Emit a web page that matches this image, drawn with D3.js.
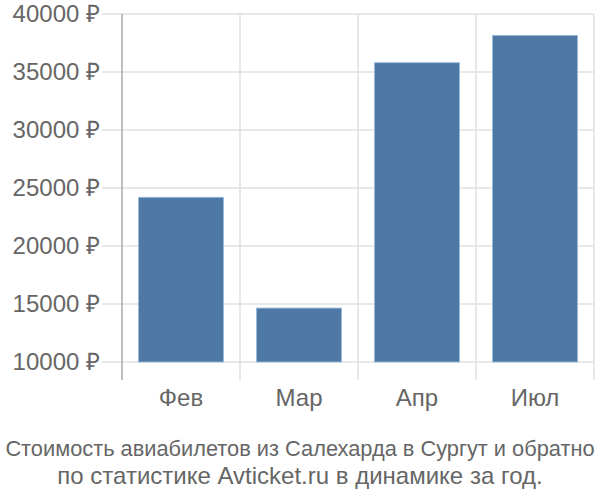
<!DOCTYPE html>
<html><head><meta charset="utf-8">
<script src="https://cdn.jsdelivr.net/npm/d3@7"></script>
<style>body{margin:0;background:#fff}svg{display:block}text{font-family:"Liberation Sans",Arial,sans-serif}</style>
</head><body><svg id="c" width="600" height="500"></svg>
<script>
const categories = ["Фев","Мар","Апр","Июл"];
const values = [24200, 14650, 35800, 38150];
const yTicks = [10000,15000,20000,25000,30000,35000,40000];
const titleLines = ["Стоимость авиабилетов из Салехарда в Сургут и обратно","по статистике Avticket.ru в динамике за год."];

const svg = d3.select("#c");
const x = d3.scaleBand().domain(categories).range([122,594]).paddingInner(0.28).paddingOuter(0.14);
const y = d3.scaleLinear().domain([10000,40000]).range([362,14]);

svg.append("g").selectAll("line").data(yTicks).join("line")
  .attr("x1",102).attr("x2",594).attr("y1",d=>y(d)).attr("y2",d=>y(d))
  .attr("stroke","#e0e0e0").attr("stroke-width",1.5);
const xEdges = categories.map(c=>x(c)-x.step()*x.paddingInner()/2).concat([x(categories[3])+x.bandwidth()+x.step()*x.paddingInner()/2]);
svg.append("g").selectAll("line").data(xEdges.slice(1)).join("line")
  .attr("x1",d=>d).attr("x2",d=>d).attr("y1",14).attr("y2",380)
  .attr("stroke","#e0e0e0").attr("stroke-width",1.5);
svg.append("g").selectAll("rect").data(values).join("rect")
  .attr("x",(d,i)=>x(categories[i])).attr("width",x.bandwidth())
  .attr("y",d=>y(d)).attr("height",d=>y(10000)-y(d))
  .attr("fill","#4e79a7").attr("stroke","#9ab8dc").attr("stroke-width",0.8);
svg.append("line").attr("x1",xEdges[0]).attr("x2",xEdges[0]).attr("y1",14).attr("y2",380)
  .attr("stroke","#aaaaaa").attr("stroke-width",1.5);
svg.append("g").selectAll("text").data(yTicks).join("text")
  .attr("x",100).attr("y",d=>y(d)).attr("dy","0.35em").attr("text-anchor","end")
  .attr("fill","#666").style("font-size","24px").text(d=>d+" ₽");
svg.append("g").selectAll("text").data(categories).join("text")
  .attr("x",d=>x(d)+x.bandwidth()/2).attr("y",406).attr("text-anchor","middle")
  .attr("fill","#666").style("font-size","24px").text(d=>d);
svg.append("g").selectAll("text").data(titleLines).join("text")
  .attr("x",300).attr("y",(d,i)=>456+i*28).attr("text-anchor","middle")
  .attr("fill","#666").style("font-size",(d,i)=>i===0?"21.8px":"24px")
  .text(d=>d);
</script></body></html>
